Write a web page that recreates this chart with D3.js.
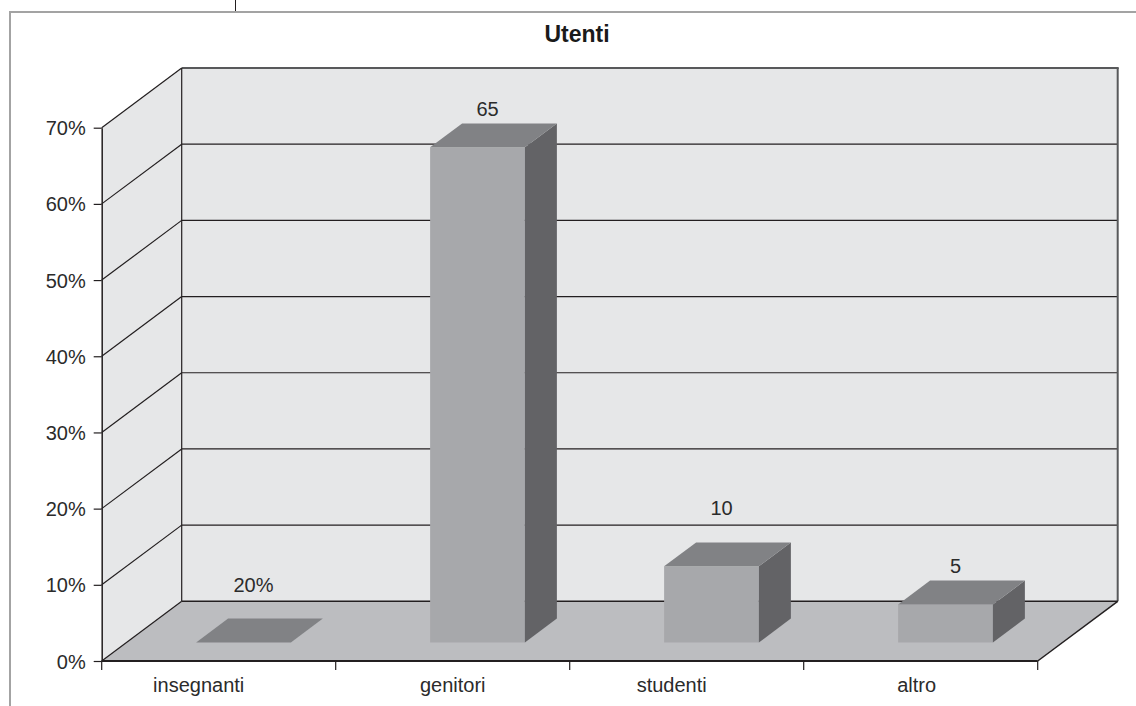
<!DOCTYPE html>
<html>
<head>
<meta charset="utf-8">
<script src="https://cdn.jsdelivr.net/npm/d3@7"></script>
<style>
  html, body { margin: 0; padding: 0; background: #ffffff; }
  svg { display: block; }
  text { font-family: "Liberation Sans", Arial, sans-serif; }
</style>
</head>
<body>
<svg id="chart" width="1136" height="706"></svg>
<script>
// Chart data
const title = "Utenti";
const categories = ["insegnanti", "genitori", "studenti", "altro"];
const values = [0, 65, 10, 5];            // percent
const valueLabels = ["20%", "65", "10", "5"];
const yTicks = [0, 0.1, 0.2, 0.3, 0.4, 0.5, 0.6, 0.7];

// Layout
const W = 1136, H = 706;
const front = { left: 101.7, right: 1037.7, bottom: 661, top: 127.7 };
const DX = 80, DY = -59.7;                // depth offset of the back wall
const barZ = [0.31, 0.71];                // bar depth span (0 = front, 1 = back)
const barWidthRatio = 0.405;
const labelLift = [50, 31, 51, 31];       // label baseline above bar top edge
const catLabelShift = [-20, 0, -15, -4];

const colors = {
  wall: "#e6e7e8", floor: "#bcbdc0", line: "#231f20", topEdge: "#58595b",
  barFront: "#a7a8ab", barTop: "#818285", barSide: "#636366",
  frame: "#a3a3a3", text: "#2b2b2b"
};

const svg = d3.select("#chart");

const x = d3.scaleBand().domain(categories).range([front.left, front.right]).padding(0);
const y = d3.scaleLinear().domain([0, 0.7]).range([front.bottom, front.top]);

const P = (px, py, z) => [px + DX * z, py + DY * z];
const poly = pts => "M" + pts.map(p => p.join(",")).join("L") + "Z";

// Outer frame
svg.append("path")
  .attr("d", `M10,${H + 5}V12H${W + 5}`)
  .attr("fill", "none").attr("stroke", colors.frame).attr("stroke-width", 2);
svg.append("line").attr("x1", 235.5).attr("x2", 235.5).attr("y1", 0).attr("y2", 11)
  .attr("stroke", colors.line).attr("stroke-width", 1);

// Title
svg.append("text").attr("x", 577).attr("y", 42).attr("text-anchor", "middle")
  .attr("font-size", 23).attr("font-weight", "bold").attr("fill", "#1a1a1a")
  .text(title);

const y0 = y(0), yTop = y(0.7);
const bx0 = front.left + DX, bx1 = front.right + DX;

// Back wall
svg.append("rect").attr("x", bx0).attr("y", yTop + DY)
  .attr("width", bx1 - bx0).attr("height", y0 - yTop)
  .attr("fill", colors.wall);
// Side wall
svg.append("path")
  .attr("d", poly([[front.left, y0], [front.left, yTop], P(front.left, yTop, 1), P(front.left, y0, 1)]))
  .attr("fill", colors.wall);

// Gridlines on back and side walls
const gl = svg.append("g");
yTicks.filter(t => t > 0 && t < 0.7).forEach(t => {
  const yy = y(t);
  gl.append("line").attr("x1", bx0).attr("x2", bx1).attr("y1", yy + DY).attr("y2", yy + DY)
    .attr("stroke", colors.line).attr("stroke-width", 1.2);
  gl.append("line").attr("x1", front.left).attr("y1", yy).attr("x2", bx0).attr("y2", yy + DY)
    .attr("stroke", colors.line).attr("stroke-width", 1.2);
});
// Top edges of the walls
gl.append("line").attr("x1", bx0).attr("x2", bx1 + 1).attr("y1", yTop + DY).attr("y2", yTop + DY)
  .attr("stroke", colors.topEdge).attr("stroke-width", 2);
gl.append("line").attr("x1", front.left).attr("y1", yTop).attr("x2", bx0).attr("y2", yTop + DY)
  .attr("stroke", colors.line).attr("stroke-width", 1.2);
// Wall corner and right edge
gl.append("line").attr("x1", bx0).attr("x2", bx0).attr("y1", yTop + DY).attr("y2", y0 + DY)
  .attr("stroke", colors.line).attr("stroke-width", 1.2);
gl.append("line").attr("x1", bx1).attr("x2", bx1).attr("y1", yTop + DY).attr("y2", y0 + DY)
  .attr("stroke", colors.topEdge).attr("stroke-width", 2);

// Floor
svg.append("path")
  .attr("d", poly([[front.left, y0], [front.right, y0], P(front.right, y0, 1), P(front.left, y0, 1)]))
  .attr("fill", colors.floor);
svg.append("line").attr("x1", bx0).attr("x2", bx1).attr("y1", y0 + DY).attr("y2", y0 + DY)
  .attr("stroke", colors.line).attr("stroke-width", 1.5);
svg.append("line").attr("x1", front.left).attr("y1", y0).attr("x2", bx0).attr("y2", y0 + DY)
  .attr("stroke", colors.line).attr("stroke-width", 1.2);
svg.append("line").attr("x1", front.right).attr("y1", y0).attr("x2", bx1).attr("y2", y0 + DY)
  .attr("stroke", colors.line).attr("stroke-width", 1.5);

// Bars
const bars = svg.append("g");
categories.forEach((c, i) => {
  const bw = x.bandwidth() * barWidthRatio;
  const xl = x(c) + (x.bandwidth() - bw) / 2, xr = xl + bw;
  const yb = y(0), yt = y(values[i] / 100);
  const [z0, z1] = barZ;
  const g = bars.append("g");
  if (values[i] > 0) {
    g.append("path").attr("fill", colors.barFront)
      .attr("d", poly([P(xl, yb, z0), P(xr, yb, z0), P(xr, yt, z0), P(xl, yt, z0)]));
    g.append("path").attr("fill", colors.barSide)
      .attr("d", poly([P(xr, yb, z0), P(xr, yb, z1), P(xr, yt, z1), P(xr, yt, z0)]));
  }
  g.append("path").attr("fill", colors.barTop)
    .attr("d", poly([P(xl, yt, z0), P(xr, yt, z0), P(xr, yt, z1), P(xl, yt, z1)]));

  const [lx, ly] = P((xl + xr) / 2 + 10, yt, z0);
  g.append("text").attr("x", lx).attr("y", ly - labelLift[i])
    .attr("text-anchor", "middle").attr("font-size", 20).attr("fill", colors.text)
    .text(valueLabels[i]);
});

// Front floor edge
svg.append("line").attr("x1", front.left).attr("x2", front.right).attr("y1", y0).attr("y2", y0)
  .attr("stroke", colors.line).attr("stroke-width", 2);

// Y axis on the front-left edge
const yAxis = d3.axisLeft(y).tickValues(yTicks).tickFormat(d3.format(".0%"))
  .tickSize(8).tickSizeOuter(0).tickPadding(8);
const ya = svg.append("g").attr("transform", `translate(${front.left},0)`).call(yAxis);
ya.select(".domain").attr("stroke", colors.line).attr("stroke-width", 1.5);
ya.selectAll(".tick line").attr("stroke", colors.line).attr("stroke-width", 1.2);
ya.selectAll(".tick text").attr("font-size", 20).attr("fill", colors.text)
  .attr("font-family", "Liberation Sans, Arial, sans-serif").attr("dy", "0.35em");

// X axis: ticks at category boundaries, labels centred under each category
const xa = svg.append("g");
const bounds = categories.map(c => x(c)).concat([front.right]);
xa.selectAll("line").data(bounds).join("line")
  .attr("x1", d => d).attr("x2", d => d).attr("y1", y0).attr("y2", y0 + 9)
  .attr("stroke", colors.line).attr("stroke-width", 1.2);
xa.selectAll("text").data(categories).join("text")
  .attr("x", (d, i) => x(d) + x.bandwidth() / 2 + catLabelShift[i]).attr("y", 692)
  .attr("text-anchor", "middle").attr("font-size", 20).attr("fill", colors.text)
  .text(d => d);
</script>
</body>
</html>
